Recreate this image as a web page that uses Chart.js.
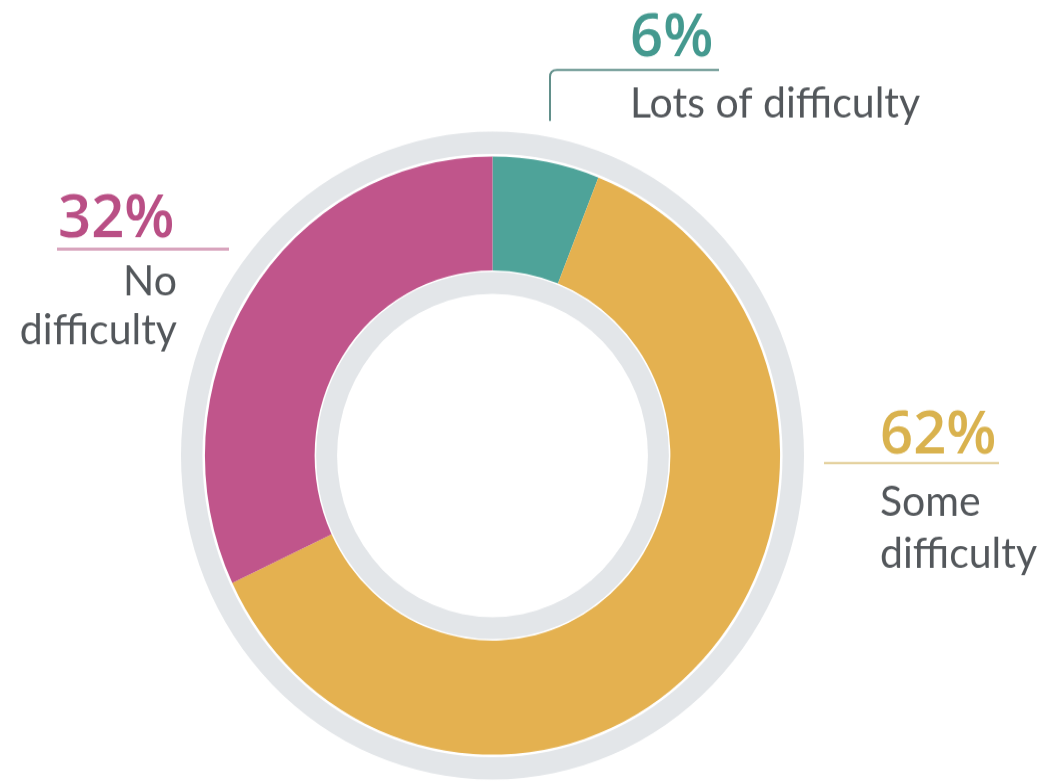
<!DOCTYPE html>
<html>
<head>
<meta charset="utf-8">
<script src="https://cdn.jsdelivr.net/npm/chart.js@4/dist/chart.umd.min.js"></script>
<style>
  html, body { margin: 0; padding: 0; background: #ffffff; overflow: hidden; }
  #wrap { position: absolute; left: 0; top: 0; width: 1063px; height: 752px; transform: scaleY(1.04); transform-origin: 0 0; }
</style>
</head>
<body>
<div id="wrap"><canvas id="c"></canvas></div>
<script>
// ---- data ----
const categories = ['Lots of difficulty', 'Some difficulty', 'No difficulty'];
const values = [6, 62, 32];
const percentLabels = ['6%', '62%', '32%'];
const labelLines = [['Lots of difficulty'], ['Some', 'difficulty'], ['No', 'difficulty']];

// ---- styles ----
const sliceColors = ['#4ea399', '#e4b150', '#c0558b'];
const pctColors = ['#44998f', '#d9b24e', '#b94f85'];
const ruleColors = ['#62908b', '#e2cd94', '#d8a4bd'];
const ringGray = '#e3e6e9';
const textGray = '#53575b';
const SY = 1.04;
const Y = v => v / SY;

const labelPlugin = {
  id: 'labels',
  afterDraw(chart) {
    const ctx = chart.ctx;
    ctx.save();
    ctx.textBaseline = 'alphabetic';
    const pctFont = '600 58px "Open Sans"';
    const lblFont = '400 41px Lato';

    // 6% - Lots of difficulty
    ctx.font = pctFont; ctx.fillStyle = pctColors[0]; ctx.textAlign = 'left';
    ctx.fillText(percentLabels[0], 630, Y(56));
    ctx.strokeStyle = ruleColors[0]; ctx.lineWidth = 2;
    ctx.beginPath();
    ctx.moveTo(550, Y(121));
    ctx.lineTo(550, Y(77));
    ctx.quadraticCurveTo(550, Y(70), 557, Y(70));
    ctx.lineTo(719, Y(70));
    ctx.stroke();
    ctx.font = lblFont; ctx.fillStyle = textGray;
    ctx.fillText(labelLines[0][0], 630, Y(118));

    // 32% - No difficulty
    ctx.font = pctFont; ctx.fillStyle = pctColors[2]; ctx.textAlign = 'left';
    ctx.fillText(percentLabels[2], 58, Y(237));
    ctx.strokeStyle = ruleColors[2]; ctx.lineWidth = 3;
    ctx.beginPath(); ctx.moveTo(57, Y(249)); ctx.lineTo(229, Y(249)); ctx.stroke();
    ctx.font = lblFont; ctx.fillStyle = textGray; ctx.textAlign = 'right';
    ctx.fillText(labelLines[2][0], 177, Y(295));
    ctx.fillText(labelLines[2][1], 177, Y(344));

    // 62% - Some difficulty
    ctx.font = pctFont; ctx.fillStyle = pctColors[1]; ctx.textAlign = 'left';
    ctx.fillText(percentLabels[1], 880, Y(453));
    ctx.strokeStyle = ruleColors[1]; ctx.lineWidth = 2;
    ctx.beginPath(); ctx.moveTo(824, Y(463)); ctx.lineTo(999, Y(463)); ctx.stroke();
    ctx.font = lblFont; ctx.fillStyle = textGray;
    ctx.fillText(labelLines[1][0], 880, Y(516));
    ctx.fillText(labelLines[1][1], 880, Y(568));
    ctx.restore();
  }
};

new Chart(document.getElementById('c'), {
  type: 'doughnut',
  data: {
    labels: categories,
    datasets: [
      { data: [100], backgroundColor: [ringGray], borderWidth: 0, weight: 21.5 },
      { data: [100], backgroundColor: ['rgba(0,0,0,0)'], borderWidth: 0, weight: 2.5 },
      { data: values, backgroundColor: sliceColors, borderWidth: 0, weight: 110 },
      { data: [100], backgroundColor: ['rgba(0,0,0,0)'], borderWidth: 0, weight: 1.5 },
      { data: [100], backgroundColor: [ringGray], borderWidth: 0, weight: 21 }
    ]
  },
  options: {
    responsive: true,
    maintainAspectRatio: false,
    animation: false,
    events: [],
    radius: 311.5,
    cutout: '49.9%',
    layout: { padding: { left: 0, right: 78, top: 124, bottom: 0 } },
    plugins: { legend: { display: false }, tooltip: { enabled: false } }
  },
  plugins: [labelPlugin]
});
</script>
</body>
</html>
